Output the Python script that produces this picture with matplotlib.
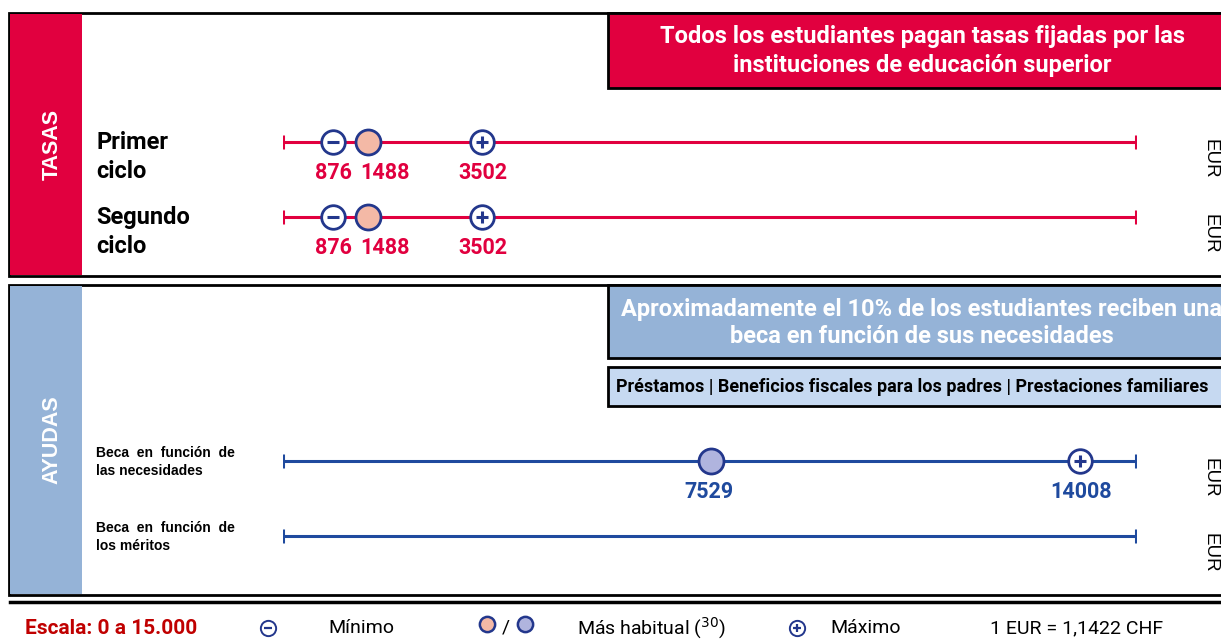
import matplotlib.pyplot as plt
from matplotlib import font_manager
from matplotlib.patches import Rectangle
from matplotlib.transforms import offset_copy

# fees and grants, EUR per year
fee_rows = ['Primer\nciclo', 'Segundo\nciclo']
fee_min = [876, 876]
fee_mode = [1488, 1488]
fee_max = [3502, 3502]

grant_rows = ['Beca  en  función  de\nlas necesidades', 'Beca  en  función  de\nlos méritos']
grant_mode = [7529, None]
grant_max = [14008, None]

scale_max = 15000

RED = '#E1003F'
NAVY = '#23378C'
BLUE_LINE = '#1F4A9E'
SIDE_BLUE = '#95B3D7'
LIGHT_BLUE = '#C6D9F1'
PEACH = '#F4B9A6'
LAVENDER = '#B0B4DE'

names = {f.name for f in font_manager.fontManager.ttflist}
NARROW = 'Liberation Sans Narrow' if 'Liberation Sans Narrow' in names else 'Roboto'
plt.rcParams['font.family'] = [NARROW, 'DejaVu Sans']

W, H = 1221, 641
fig = plt.figure(figsize=(W / 100, H / 100), dpi=100)

# pixel-space canvas for the frames and headings
ax = fig.add_axes([0, 0, 1, 1])
ax.set_xlim(0, W)
ax.set_ylim(H, 0)
ax.axis('off')


def box(x, y, w, h, fc, lw=2.0):
    ax.add_patch(Rectangle((x, y), w, h, facecolor=fc, edgecolor='black',
                           linewidth=lw, clip_on=False))


# TASAS block
box(9, 13, 1260, 263, 'white')
ax.add_patch(Rectangle((10, 14), 72, 261, facecolor=RED, edgecolor='none'))
ax.text(52, 145, 'TASAS', rotation=90, color='white', fontsize=15.5,
        fontweight='bold', family='Liberation Sans', ha='center', va='center')
box(608, 13, 660, 75, RED)
ax.text(922, 51, 'Todos los estudiantes pagan tasas fijadas por las\ninstituciones de educación superior',
        color='white', fontsize=17, fontweight='bold', ha='center', va='center', linespacing=1.3)

# AYUDAS block
box(9, 285, 1260, 310, 'white')
ax.add_patch(Rectangle((10, 286), 72, 308, facecolor=SIDE_BLUE, edgecolor='none'))
ax.text(52, 440, 'AYUDAS', rotation=90, color='white', fontsize=15.5,
        fontweight='bold', family='Liberation Sans', ha='center', va='center')
box(608, 285, 660, 73, SIDE_BLUE)
ax.text(922, 323, 'Aproximadamente el 10% de los estudiantes reciben una\nbeca en función de sus necesidades',
        color='white', fontsize=17, fontweight='bold', ha='center', va='center', linespacing=1.25)
box(608, 367, 660, 39, LIGHT_BLUE)
ax.text(616, 387, 'Préstamos | Beneficios fiscales para los padres | Prestaciones familiares',
        color='black', fontsize=13, fontweight='bold', ha='left', va='center')

ax.plot([10, W + 5], [602, 602], color='black', linewidth=2.5, clip_on=False)

# row labels
fee_y = [142, 217]
grant_y = [461, 536]
for lab, y in zip(fee_rows, fee_y):
    ax.text(96, y + 15, lab, fontsize=17, fontweight='bold', ha='left', va='center', linespacing=1.35)
for lab, y in zip(grant_rows, grant_y):
    ax.text(96, y + 1, lab, fontsize=10, fontweight='bold', ha='left', va='center',
            family='Liberation Sans', linespacing=1.35)
for y in fee_y + grant_y:
    ax.text(1210, y + 17, 'EUR', rotation=-90, fontsize=13.5, family='Liberation Sans',
            ha='center', va='center')

# scale axes: 0..15000 EUR mapped onto the line span
sx = fig.add_axes([283 / W, 0, 853 / W, 1])
sx.set_xlim(0, scale_max)
sx.set_ylim(H, 0)
sx.axis('off')


def minus_plus(axx, x, y, sign, ms=17, inner=9, mew=2.0):
    axx.plot([x], [y], 'o', ms=ms, mfc='white', mec=NAVY, mew=mew, clip_on=False, zorder=5)
    axx.plot([x], [y], sign, ms=inner, mec=NAVY, mew=mew + 0.2, clip_on=False, zorder=6)


def label(axx, x, y, txt, color, dx=0):
    tr = offset_copy(axx.transData, fig=fig, x=dx, y=0, units='dots')
    axx.text(x, y, txt, transform=tr, color=color, fontsize=15.5, fontweight='bold',
             ha='center', va='center')


for y, lo, md, hi in zip(fee_y, fee_min, fee_mode, fee_max):
    sx.plot([0, scale_max], [y, y], color=RED, linewidth=2.2, zorder=2)
    sx.plot([0, scale_max], [y, y], '|', color=RED, ms=10, mew=2.2, zorder=2)
    minus_plus(sx, lo, y, '_')
    sx.plot([md], [y], 'o', ms=18, mfc=PEACH, mec=NAVY, mew=2, zorder=5)
    minus_plus(sx, hi, y, '+')
    label(sx, lo, y + 31, str(lo), RED, dx=1)
    label(sx, md, y + 31, str(md), RED, dx=17)
    label(sx, hi, y + 31, str(hi), RED, dx=1)

for y, md, hi in zip(grant_y, grant_mode, grant_max):
    sx.plot([0, scale_max], [y, y], color=BLUE_LINE, linewidth=2.2, zorder=2)
    sx.plot([0, scale_max], [y, y], '|', color=BLUE_LINE, ms=10, mew=2.2, zorder=2)
    if md is not None:
        sx.plot([md], [y], 'o', ms=18, mfc=LAVENDER, mec=NAVY, mew=2, zorder=5)
        label(sx, md, y + 31, str(md), BLUE_LINE, dx=-2)
    if hi is not None:
        minus_plus(sx, hi, y, '+')
        label(sx, hi, y + 31, str(hi), BLUE_LINE, dx=1)

# key
ky = 628
ax.text(25, ky, 'Escala: 0 a 15.000', color='#C00000', fontsize=15, fontweight='bold',
        ha='left', va='center')
minus_plus(ax, 268, ky, '_', ms=11, inner=6, mew=1.4)
ax.text(328, ky, 'Mínimo', fontsize=14, ha='left', va='center')
ax.plot([487], [ky - 4], 'o', ms=11, mfc=PEACH, mec=NAVY, mew=1.8)
ax.text(506, ky, '/', fontsize=14, ha='center', va='center')
ax.plot([525], [ky - 4], 'o', ms=11, mfc=LAVENDER, mec=NAVY, mew=1.8)
ax.text(577, ky, 'Más habitual ($^{30}$)', fontsize=14, ha='left', va='center')
minus_plus(ax, 797, ky, '+', ms=11, inner=6, mew=1.4)
ax.text(830, ky, 'Máximo', fontsize=14, ha='left', va='center')
ax.text(990, ky, '1 EUR = 1,1422 CHF', fontsize=14, ha='left', va='center')

fig.savefig('out.png', dpi=100)
